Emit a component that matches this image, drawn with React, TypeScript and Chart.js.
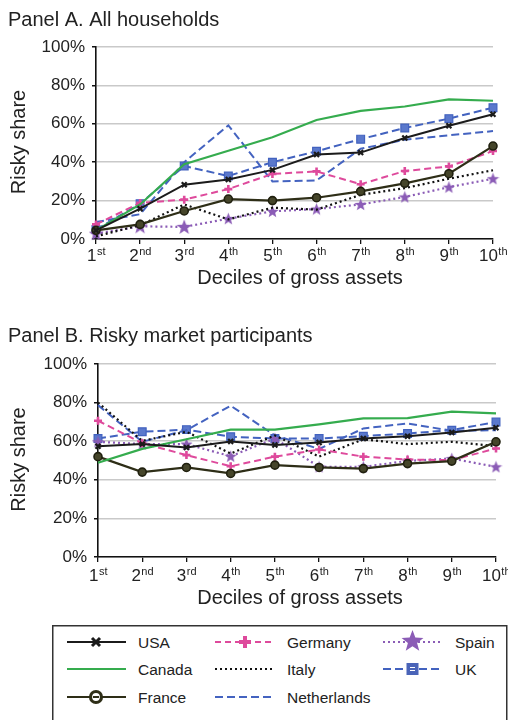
import React, { useEffect, useRef } from 'react';
import { Chart, registerables } from 'chart.js';

Chart.register(...registerables);

const FONT = '"Liberation Sans", Arial, Helvetica, sans-serif';

// ---------- data ----------
const decileNumbers = ['1', '2', '3', '4', '5', '6', '7', '8', '9', '10'];
const decileSuffixes = ['st', 'nd', 'rd', 'th', 'th', 'th', 'th', 'th', 'th', 'th'];
const yAxisTicks = [0, 20, 40, 60, 80, 100];
const countries = ['USA', 'Canada', 'France', 'Germany', 'Italy', 'Netherlands', 'Spain', 'UK'];

// Panel A. All households (risky share, %)
const usaA = [4.5, 15.8, 28.3, 31, 36, 44, 45, 52.6, 59, 65];
const canadaA = [4.5, 18, 39, 46, 53, 62, 66.7, 69, 72.7, 72];
const franceA = [4.5, 7.6, 14.6, 20.8, 20, 21.5, 24.8, 29, 34, 48.4];
const germanyA = [7.6, 18.8, 20.5, 26, 33.9, 35.2, 28.5, 35.4, 37.8, 45.8];
const italyA = [1.4, 7.2, 18, 10.2, 16.3, 15.3, 23, 26.5, 31.4, 35.8];
const netherlandsA = [8.8, 12.9, 40, 59.2, 30, 30.5, 47, 51.7, 54, 56.2];
const spainA = [2.8, 6.6, 6.3, 10.6, 14.4, 15.6, 18, 21.9, 27, 31.4];
const ukA = [4.9, 18.4, 38, 32.8, 40, 45.7, 52, 57.8, 62.7, 68.4];

// Panel B. Risky market participants (risky share, %)
const usaB = [57.4, 58.5, 56.7, 59.9, 58, 59.3, 61.4, 62.6, 64.5, 67];
const canadaB = [48.8, 56, 61, 66, 66, 68.7, 71.8, 72, 75.3, 74.4];
const franceB = [52, 44, 46.4, 43.3, 47.6, 46.4, 45.8, 48.4, 49.7, 59.7];
const germanyB = [70.6, 59, 52.8, 47, 52, 55.7, 52, 50.5, 50.2, 56.2];
const italyB = [80, 60.2, 64.9, 53.6, 63, 52, 61, 58.5, 59.7, 57.4];
const netherlandsB = [78.7, 59.7, 65.7, 78.4, 63, 56, 66.6, 69.2, 65.4, 65.7];
const spainB = [59.7, 58.5, 58.5, 52.2, 61.4, 46.7, 46.7, 49.8, 51, 46.7];
const ukB = [61.4, 64.9, 66, 62.3, 61.4, 61.4, 62.6, 64, 65.7, 70];

const panelAData = [usaA, canadaA, franceA, germanyA, italyA, netherlandsA, spainA, ukA];
const panelBData = [usaB, canadaB, franceB, germanyB, italyB, netherlandsB, spainB, ukB];

// ---------- styles ----------
const C_USA = '#1b1b1b';
const C_CAN = '#35ac4e';
const C_FRA = '#2e2e17';
const C_GER = '#de4a9c';
const C_ITA = '#111111';
const C_NED = '#4463c0';
const C_SPA = '#8b5cb6';
const C_UK = '#4262bf';

function makeStar(size: number, color: string) {
  const c = document.createElement('canvas');
  c.width = size;
  c.height = size;
  const g = c.getContext('2d')!;
  const r = size / 2;
  const ri = r * 0.42;
  g.beginPath();
  for (let k = 0; k < 10; k++) {
    const a = -Math.PI / 2 + (k * Math.PI) / 5;
    const rr = k % 2 ? ri : r;
    g.lineTo(r + rr * Math.cos(a), r + 0.5 + rr * Math.sin(a));
  }
  g.closePath();
  g.fillStyle = color;
  g.fill();
  return c;
}

function buildDatasets(values: number[][], stars: HTMLCanvasElement[]) {
  const styles: any[] = [
    { borderColor: C_USA, borderWidth: 2, pointStyle: 'crossRot', pointRadius: 3.5, pointBorderWidth: 2.2, pointBorderColor: C_USA },
    { borderColor: C_CAN, borderWidth: 2.2, pointRadius: 0 },
    { borderColor: C_FRA, borderWidth: 2.2, pointStyle: 'circle', pointRadius: 4, pointBorderWidth: 1.6, pointBorderColor: '#20200f', pointBackgroundColor: '#45452a' },
    { borderColor: C_GER, borderWidth: 2, borderDash: [7, 4], pointStyle: 'cross', pointRadius: 4, pointBorderWidth: 2.6, pointBorderColor: C_GER },
    { borderColor: C_ITA, borderWidth: 2.2, borderDash: [2, 3], pointRadius: 0 },
    { borderColor: C_NED, borderWidth: 2, borderDash: [8, 4], pointRadius: 0 },
    { borderColor: C_SPA, borderWidth: 2.2, borderDash: [2, 3], pointStyle: stars, pointRadius: 6 },
    { borderColor: C_UK, borderWidth: 2, borderDash: [8, 4], pointStyle: 'rect', pointRadius: 5.5, pointBorderWidth: 1.2, pointBorderColor: C_UK, pointBackgroundColor: '#5a78cc' },
  ];
  return countries.map((name, i) => ({
    label: name,
    data: values[i],
    fill: false,
    tension: 0,
    clip: false as any,
    pointHoverRadius: 0,
    ...styles[i],
  }));
}

interface Geo {
  width: number;
  height: number;
  left: number;
  right: number;
  top: number;
  bottom: number;
  title: string;
  titleBaseline: number;
  tickBaseline: number;
  supBaseline: number;
  xTitleBaseline: number;
  yTitleX: number;
  starSizes: number[];
}

function textPlugin(geo: Geo) {
  return {
    id: 'panelText',
    afterDraw(chart: any) {
      const ctx = chart.ctx as CanvasRenderingContext2D;
      const xs = chart.scales.x;
      const area = chart.chartArea;
      ctx.save();
      ctx.fillStyle = '#222';
      ctx.textBaseline = 'alphabetic';
      ctx.textAlign = 'left';
      // title
      ctx.font = `20px ${FONT}`;
      ctx.fillText(geo.title, 8, geo.titleBaseline);
      // x tick labels with superscripts
      decileNumbers.forEach((n, i) => {
        const px = xs.getPixelForValue(i);
        ctx.font = `17px ${FONT}`;
        const w1 = ctx.measureText(n).width;
        ctx.font = `11px ${FONT}`;
        const w2 = ctx.measureText(decileSuffixes[i]).width;
        const start = px - (w1 + w2) / 2;
        ctx.font = `17px ${FONT}`;
        ctx.fillText(n, start, area.bottom + geo.tickBaseline);
        ctx.font = `11px ${FONT}`;
        ctx.fillText(decileSuffixes[i], start + w1 + 0.5, area.bottom + geo.supBaseline);
      });
      // x title
      ctx.font = `20px ${FONT}`;
      ctx.textAlign = 'center';
      ctx.fillText('Deciles of gross assets', 300, area.bottom + geo.xTitleBaseline);
      // y title
      ctx.translate(geo.yTitleX, (area.top + area.bottom) / 2 - 1);
      ctx.rotate(-Math.PI / 2);
      ctx.fillText('Risky share', 0, 0);
      ctx.restore();
    },
  };
}

function PanelChart({ values, geo, top }: { values: number[][]; geo: Geo; top: number }) {
  const ref = useRef<HTMLCanvasElement | null>(null);
  useEffect(() => {
    if (!ref.current) return;
    const stars = geo.starSizes.map((s) => makeStar(s, C_SPA));
    const chart = new Chart(ref.current, {
      type: 'line',
      data: { labels: decileNumbers, datasets: buildDatasets(values, stars) as any },
      options: {
        animation: false,
        responsive: false,
        events: [],
        layout: { padding: { left: 0, right: geo.width - geo.right, top: geo.top, bottom: 0 } },
        plugins: { legend: { display: false }, tooltip: { enabled: false }, title: { display: false } },
        scales: {
          x: {
            type: 'category',
            offset: false,
            afterFit: (s: any) => {
              s.height = geo.height - geo.bottom;
            },
            ticks: { display: false },
            grid: { drawOnChartArea: false, drawTicks: true, tickLength: 5, tickColor: '#111', lineWidth: 1.3 },
            border: { display: true, color: '#111', width: 1.6 },
          },
          y: {
            min: 0,
            max: 100,
            afterFit: (s: any) => {
              s.width = geo.left;
            },
            afterBuildTicks: (s: any) => {
              s.ticks = yAxisTicks.map((v) => ({ value: v }));
            },
            ticks: {
              callback: (v: any) => `${v}%`,
              font: { family: FONT, size: 17 },
              color: '#222',
              padding: 7,
            },
            grid: { color: '#c9c9c9', lineWidth: 1.5, tickColor: '#111', tickLength: 4, drawTicks: true },
            border: { display: true, color: '#111', width: 1.6 },
          },
        },
      },
      plugins: [textPlugin(geo)],
    });
    return () => chart.destroy();
  }, []);
  return (
    <canvas
      ref={ref}
      width={geo.width}
      height={geo.height}
      style={{ position: 'absolute', left: 0, top, width: geo.width, height: geo.height }}
    />
  );
}

const geoA: Geo = {
  width: 508,
  height: 300,
  left: 96,
  right: 493,
  top: 47,
  bottom: 239,
  title: 'Panel A. All households',
  titleBaseline: 26,
  tickBaseline: 22.3,
  supBaseline: 15.5,
  xTitleBaseline: 44.5,
  yTitleX: 25,
  starSizes: [15, 16, 16, 13, 13, 13, 13, 13, 13, 13],
};

const geoB: Geo = {
  width: 508,
  height: 320,
  left: 98,
  right: 496,
  top: 64,
  bottom: 257,
  title: 'Panel B. Risky market participants',
  titleBaseline: 41.7,
  tickBaseline: 24.3,
  supBaseline: 17.5,
  xTitleBaseline: 47,
  yTitleX: 25,
  starSizes: [13, 13, 13, 13, 13, 13, 13, 13, 13, 13],
};

function Legend() {
  const rows = [17, 44, 72];
  const textStyle = { fontFamily: FONT, fontSize: 15.5, fill: '#222' } as any;
  const starPts = (cx: number, cy: number, r: number) => {
    const pts: string[] = [];
    for (let k = 0; k < 10; k++) {
      const a = -Math.PI / 2 + (k * Math.PI) / 5;
      const rr = k % 2 ? r * 0.42 : r;
      pts.push(`${(cx + rr * Math.cos(a)).toFixed(2)},${(cy + rr * Math.sin(a)).toFixed(2)}`);
    }
    return pts.join(' ');
  };
  return (
    <svg width={508} height={95} style={{ position: 'absolute', left: 0, top: 625 }}>
      <rect x={52.75} y={0.75} width={454} height={130} fill="#fff" stroke="#333" strokeWidth={1.5} />
      {/* column 1 */}
      <line x1={67} x2={126} y1={rows[0]} y2={rows[0]} stroke={C_USA} strokeWidth={2} />
      <path d={`M92 ${rows[0] - 4} L100 ${rows[0] + 4} M100 ${rows[0] - 4} L92 ${rows[0] + 4}`} stroke={C_USA} strokeWidth={3} />
      <text x={138} y={rows[0] + 5.5} style={textStyle}>USA</text>
      <line x1={67} x2={126} y1={rows[1]} y2={rows[1]} stroke={C_CAN} strokeWidth={2.2} />
      <text x={138} y={rows[1] + 5.5} style={textStyle}>Canada</text>
      <line x1={67} x2={126} y1={rows[2]} y2={rows[2]} stroke={C_FRA} strokeWidth={2.2} />
      <circle cx={96} cy={rows[2]} r={5.5} fill="#fff" stroke={C_FRA} strokeWidth={3.2} />
      <line x1={93} x2={99} y1={rows[2]} y2={rows[2]} stroke={C_FRA} strokeWidth={2} />
      <text x={138} y={rows[2] + 5.5} style={textStyle}>France</text>
      {/* column 2 */}
      <line x1={215} x2={275} y1={rows[0]} y2={rows[0]} stroke={C_GER} strokeWidth={2} strokeDasharray="6 4" />
      <path d={`M239 ${rows[0]} L251 ${rows[0]} M245 ${rows[0] - 6} L245 ${rows[0] + 6}`} stroke={C_GER} strokeWidth={4} />
      <text x={287} y={rows[0] + 5.5} style={textStyle}>Germany</text>
      <line x1={215} x2={275} y1={rows[1]} y2={rows[1]} stroke={C_ITA} strokeWidth={2.2} strokeDasharray="2 3" />
      <text x={287} y={rows[1] + 5.5} style={textStyle}>Italy</text>
      <line x1={215} x2={275} y1={rows[2]} y2={rows[2]} stroke={C_NED} strokeWidth={2.2} strokeDasharray="8 4" />
      <text x={287} y={rows[2] + 5.5} style={textStyle}>Netherlands</text>
      {/* column 3 */}
      <line x1={383} x2={442} y1={rows[0]} y2={rows[0]} stroke={C_SPA} strokeWidth={2} strokeDasharray="2 3" />
      <polygon points={starPts(412.5, rows[0] - 0.5, 11.5)} fill={C_SPA} />
      <text x={455} y={rows[0] + 5.5} style={textStyle}>Spain</text>
      <line x1={383} x2={442} y1={rows[1]} y2={rows[1]} stroke={C_UK} strokeWidth={2.2} strokeDasharray="8 4" />
      <rect x={406.5} y={rows[1] - 6} width={12} height={12} fill="#4a64b8" />
      <line x1={410} x2={415} y1={rows[1] - 1.5} y2={rows[1] - 1.5} stroke="#fff" strokeWidth={1} />
      <line x1={410} x2={415} y1={rows[1] + 1.5} y2={rows[1] + 1.5} stroke="#fff" strokeWidth={1} />
      <text x={455} y={rows[1] + 5.5} style={textStyle}>UK</text>
    </svg>
  );
}

export default function App() {
  return (
    <div style={{ position: 'absolute', left: 0, top: 0, width: 508, height: 720, background: '#fff', overflow: 'hidden' }}>
      <PanelChart values={panelAData} geo={geoA} top={0} />
      <PanelChart values={panelBData} geo={geoB} top={300} />
      <Legend />
    </div>
  );
}
